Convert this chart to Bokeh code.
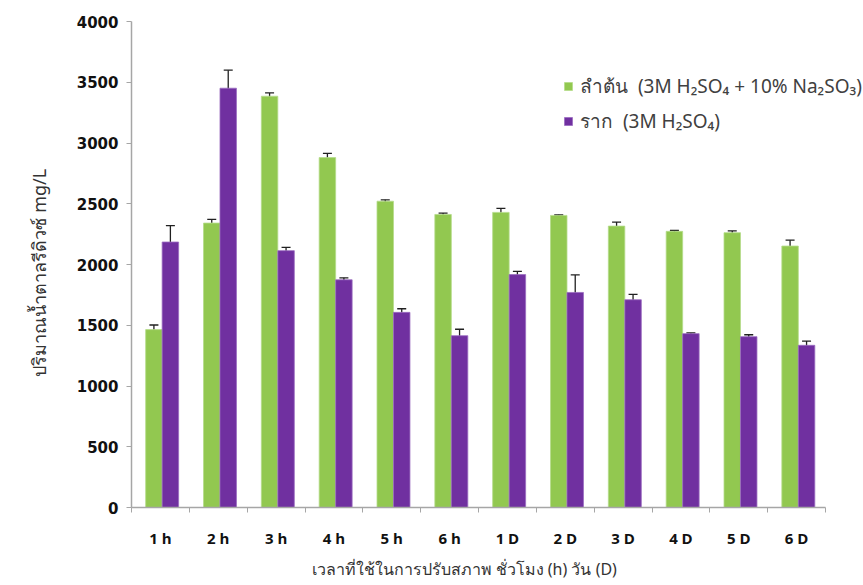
from bokeh.plotting import figure
from bokeh.models import (ColumnDataSource, Whisker, TeeHead, FixedTicker,
                          Range1d, Legend, LegendItem, Title)
from bokeh.embed import file_html
from bokeh.resources import INLINE

# Pretreatment time: hours (h) and days (D)
periods = ["1 h", "2 h", "3 h", "4 h", "5 h", "6 h",
           "1 D", "2 D", "3 D", "4 D", "5 D", "6 D"]

# Reducing sugar (mg/L), stem: 3M H2SO4 + 10% Na2SO3
stem = [1464, 2341, 3385, 2880, 2521, 2412, 2429, 2404, 2316, 2273, 2262, 2152]
stem_err = [38, 30, 27, 35, 11, 11, 33, 5, 33, 8, 14, 48]

# Reducing sugar (mg/L), root: 3M H2SO4
root = [2185, 3451, 2114, 1874, 1606, 1414, 1917, 1770, 1710, 1431, 1406, 1335]
root_err = [135, 148, 27, 16, 30, 53, 27, 144, 44, 6, 16, 35]

stem_label = "ลำต้น  (3M H₂SO₄ + 10% Na₂SO₃)"
root_label = "ราก  (3M H₂SO₄)"
x_title = "เวลาที่ใช้ในการปรับสภาพ ชั่วโมง (h) วัน (D)"
y_title = "ปริมาณน้ำตาลรีดิวซ์ mg/L"

GREEN = "#92C850"
PURPLE = "#7030A0"
AXIS_GRAY = "#a6a6a6"

n = len(periods)
bar_w = 0.285
shift = 0.03
centers = [i + 0.5 for i in range(n)]
x_stem = [c + shift - bar_w / 2 for c in centers]
x_root = [c + shift + bar_w / 2 for c in centers]

src = ColumnDataSource(dict(
    x_stem=x_stem, x_root=x_root,
    stem=stem, root=root,
    stem_lo=[v - e for v, e in zip(stem, stem_err)],
    stem_hi=[v + e for v, e in zip(stem, stem_err)],
    root_lo=[v - e for v, e in zip(root, root_err)],
    root_hi=[v + e for v, e in zip(root, root_err)],
))

# The frame runs to the right edge so the legend has room; the x axis
# line itself stops at the last category boundary (axis bounds below).
x_end = n * 732 / 694

p = figure(width=863, height=585,
           x_range=Range1d(0, x_end), y_range=Range1d(0, 4000),
           output_backend="svg", toolbar_location=None,
           min_border_left=131, min_border_right=0,
           min_border_top=21, min_border_bottom=77)
p.background_fill_color = "white"
p.border_fill_color = "white"
p.outline_line_color = None
p.xgrid.visible = False
p.ygrid.visible = False

r_stem = p.vbar(x="x_stem", top="stem", width=bar_w, source=src,
                fill_color=GREEN, line_color="#b5dc8a", line_width=0.8)
r_root = p.vbar(x="x_root", top="root", width=bar_w, source=src,
                fill_color=PURPLE, line_color="#9a6cc0", line_width=0.8)

for base, lo, hi in (("x_stem", "stem_lo", "stem_hi"), ("x_root", "root_lo", "root_hi")):
    w = Whisker(base=base, lower=lo, upper=hi, source=src,
                line_color="#202020", line_width=1.3,
                upper_head=TeeHead(size=9, line_color="#202020", line_width=1.3),
                lower_head=TeeHead(size=9, line_color="#202020", line_width=1.3))
    p.add_layout(w)

# x axis: labels at category centres, short ticks on category boundaries
xa = p.xaxis[0]
xa.bounds = (0, n)
xa.ticker = FixedTicker(ticks=centers, minor_ticks=list(range(n + 1)))
xa.major_label_overrides = {c: lab for c, lab in zip(centers, periods)}
xa.major_tick_out = 0
xa.major_tick_in = 0
xa.minor_tick_out = 5
xa.minor_tick_in = 0
xa.minor_tick_line_color = AXIS_GRAY
xa.axis_line_color = AXIS_GRAY
xa.axis_line_width = 1.5
xa.major_label_text_font = "Open Sans"
xa.major_label_text_font_style = "bold"
xa.major_label_text_font_size = "15px"
xa.major_label_text_color = "#111111"
xa.major_label_standoff = 15

ya = p.yaxis[0]
ya.ticker = FixedTicker(ticks=list(range(0, 4001, 500)))
ya.minor_tick_line_color = None
ya.major_tick_out = 5
ya.major_tick_in = 0
ya.major_tick_line_color = AXIS_GRAY
ya.axis_line_color = AXIS_GRAY
ya.axis_line_width = 1.5
ya.major_label_text_font = "DejaVu Sans"
ya.major_label_text_font_style = "bold"
ya.major_label_text_font_size = "15px"
ya.major_label_text_color = "#111111"
ya.major_label_standoff = 8

# Axis titles as side-panel titles so they can be offset along the frame
p.add_layout(Title(text=x_title, align="left", offset=180, standoff=11,
                   text_font="Noto Sans", text_font_style="normal",
                   text_font_size="16px", text_color="#333333"), "below")
p.add_layout(Title(text=y_title, align="left", offset=131, standoff=45,
                   text_font="Noto Sans", text_font_style="normal",
                   text_font_size="18px", text_color="#333333"), "left")

legend = Legend(items=[LegendItem(label=stem_label, renderers=[r_stem]),
                       LegendItem(label=root_label, renderers=[r_root])],
                location=(432, 371), orientation="vertical",
                padding=0, margin=0, spacing=5,
                glyph_width=10, glyph_height=10, label_height=20,
                label_standoff=7,
                label_text_font="Noto Sans", label_text_font_size="19px",
                label_text_color="#404040",
                border_line_color=None, background_fill_alpha=0)
p.add_layout(legend)

open("out.html", "w").write(file_html(p, INLINE))
